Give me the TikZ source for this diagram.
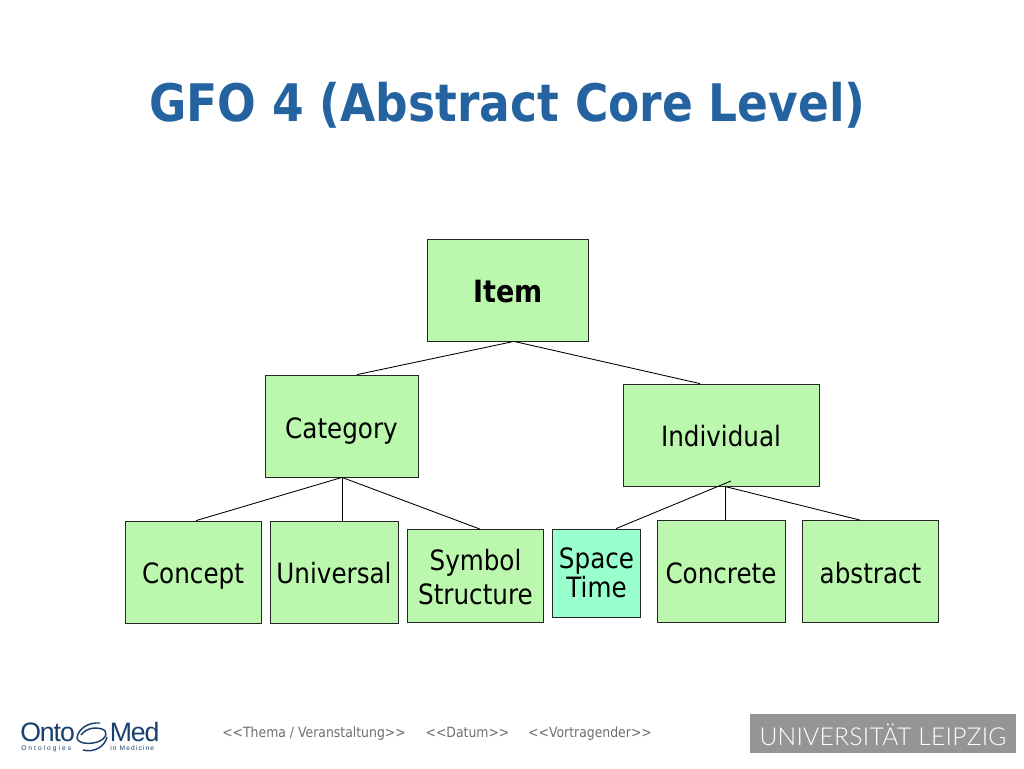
\documentclass[tikz,border=0pt]{standalone}
\usepackage{fontspec}
\usetikzlibrary{calc}
\setmainfont{DejaVu Sans}
\newfontfamily\tah[FakeStretch=0.88]{DejaVu Sans}
\newfontfamily\logofont{Liberation Sans}
\newfontfamily\uni[LetterSpace=1]{Lato Light}
\definecolor{titleblue}{HTML}{24639F}
\definecolor{boxgreen}{HTML}{BBF8AE}
\definecolor{boxteal}{HTML}{99FFCC}
\definecolor{logoblue}{HTML}{17406F}
\definecolor{footgray}{HTML}{6F6F6F}
\definecolor{unigray}{HTML}{959595}
\tikzset{
  x=0.75pt,y=-0.75pt,
  pbox/.style={draw=black!85,line width=0.6pt,fill=boxgreen,inner sep=0pt,align=center,font=\tah\fontsize{21}{23.5}\selectfont},
  conn/.style={draw=black,line width=0.65pt},
  foot/.style={inner sep=0pt,text=footgray,text height=8pt,text depth=2.5pt,font=\tah\fontsize{10.6}{12}\selectfont},
  logobig/.style={inner sep=0pt,text=logoblue,anchor=base west,font=\logofont\fontsize{20}{21}\selectfont},
  logosmall/.style={inner sep=0pt,text=logoblue,anchor=base west,font=\logofont\fontsize{5}{5}\selectfont},
}
\newcommand{\pb}[6][]{\node[pbox,#1,minimum width=#4*0.75pt,minimum height=#5*0.75pt] (#2) at (#3) {#6};}
\newcommand{\dn}[2]{\raisebox{-#1pt}[0pt][0pt]{#2}}
\begin{document}
\begin{tikzpicture}
\useasboundingbox (0,0) rectangle (1024,768);
\fill[white] (0,0) rectangle (1024,768);
\node[inner sep=0pt,text=titleblue,font=\tah\bfseries\fontsize{38.8}{42}\selectfont] (title) at (507.5,105) {GFO 4 (Abstract Core Level)};
\pb[font=\tah\bfseries\fontsize{23}{25}\selectfont]{item}{508,290}{161}{102}{\dn{9}{Item}}
\pb{category}{341.5,426}{153}{102}{\dn{9}{Category}}
\pb{individual}{721,435}{196}{102}{\dn{8.3}{Individual}}
\pb{concept}{193,572}{136}{102}{\dn{8.5}{Concept}}
\pb{universal}{334,572}{128}{102}{\dn{8.5}{Universal}}
\pb[font=\tah\fontsize{21}{25.5}\selectfont]{symbol}{475.5,576}{136}{93}{\rule{0pt}{18pt}Symbol\\Structure}
\pb[fill=boxteal,font=\tah\fontsize{21}{22}\selectfont]{space}{596.5,573}{88}{88}{Space\\Time}
\pb{concrete}{721,571.5}{128}{102}{\dn{9}{Concrete}}
\pb{abstract}{870.5,571.5}{136}{102}{\dn{8.7}{abstract}}
\coordinate (j1) at ($(item.south)+(6,0)$);
\coordinate (j2) at ($(category.south)+(0.5,0)$);
\coordinate (j3) at (731,481);
\coordinate (j4) at (725,486.5);
\draw[conn] (j1) -- ($(category.north)+(15.5,0)$);
\draw[conn] (j1) -- ($(individual.north)+(-21,0)$);
\draw[conn] (j2) -- ($(concept.north)+(3,0)$);
\draw[conn] (j2) -- ($(universal.north)+(8,0)$);
\draw[conn] (j2) -- ($(symbol.north)+(4.5,0)$);
\draw[conn] (j3) -- ($(space.north)+(19.5,0)$);
\draw[conn] (j4) -- (concrete.north -| j4);
\draw[conn] (j4) -- ($(abstract.north)+(-10.5,0)$);
\node[foot] (f1) at (314,734) {<{}<Thema / Veranstaltung>{}>};
\node[foot] (f2) at (467.5,734) {<{}<Datum>{}>};
\node[foot] (f3) at (590,734) {<{}<Vortragender>{}>};
% Onto Med logo
\node[logobig] (onto) at (20,741.5) {\addfontfeature{LetterSpace=-4}Onto};
\node[logobig] (med) at (109.5,741.5) {\addfontfeature{LetterSpace=-4}Med};
\node[logosmall] (ontos) at (21,750.5) {\addfontfeature{LetterSpace=30}Ontologies};
\node[logosmall] (medi) at (110,750.5) {\addfontfeature{LetterSpace=17}in Medicine};
\draw[logoblue,line width=1.1pt] (100,723) .. controls (88,722) and (78,729) .. (77,738) .. controls (78,745) and (96,745) .. (103,739) .. controls (110,732) and (104,728) .. (95,728) .. controls (89,728) and (84,731) .. (81,735);
\draw[logoblue,line width=1.1pt] (107,737) .. controls (105,746) and (95,753) .. (83,750);
% Leipzig
\node[draw=none,fill=unigray,minimum width=266*0.75pt,minimum height=39*0.75pt,inner sep=0pt] (unibox) at (883,733.5) {};
\node[inner sep=0pt,text=white,font=\uni\fontsize{18.5}{20}\selectfont] (unitext) at (883,734.5) {UNIVERSITÄT LEIPZIG};
\end{tikzpicture}
\end{document}
